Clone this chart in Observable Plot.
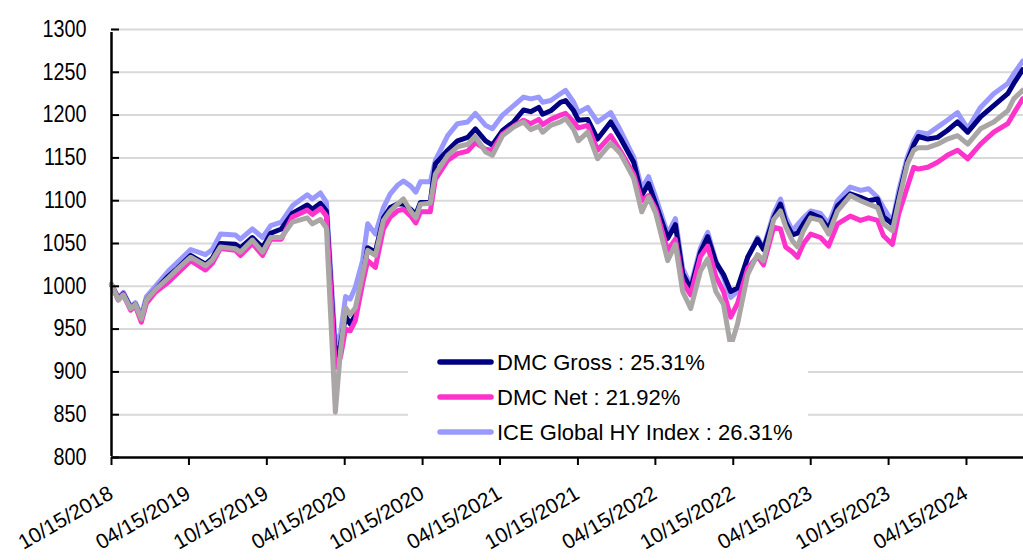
<!DOCTYPE html>
<html><head><meta charset="utf-8">
<script src="https://cdn.jsdelivr.net/npm/d3@7"></script>
<script src="https://cdn.jsdelivr.net/npm/@observablehq/plot@0.6"></script>
<style>
html,body{margin:0;padding:0;background:#fff;}
#chart{width:1023px;height:560px;overflow:hidden;}
</style></head><body><div id="chart"></div>
<script>
const dates = ["2018-10-15","2018-10-31","2018-11-12","2018-11-29","2018-12-10","2018-12-24","2019-01-05","2019-01-26","2019-02-26","2019-03-19",
"2019-04-19","2019-05-24","2019-06-09","2019-06-28","2019-08-02","2019-08-14","2019-09-11","2019-10-05","2019-10-24","2019-11-18",
"2019-12-14","2020-01-18","2020-01-30","2020-02-18","2020-03-03","2020-03-24","2020-04-05","2020-04-17","2020-04-28","2020-05-10",
"2020-05-27","2020-06-08","2020-06-26","2020-07-15","2020-07-31","2020-08-17","2020-08-31","2020-09-17","2020-09-29","2020-10-10",
"2020-11-02","2020-11-14","2020-12-13","2021-01-05","2021-01-29","2021-02-16","2021-03-12","2021-03-28","2021-04-21","2021-05-17",
"2021-06-09","2021-06-26","2021-07-15","2021-07-24","2021-08-12","2021-09-04","2021-09-16","2021-10-05","2021-10-16","2021-11-07",
"2021-11-30","2021-12-31","2022-01-23","2022-02-23","2022-03-14","2022-03-30","2022-04-16","2022-05-14","2022-06-01","2022-06-18",
"2022-07-07","2022-07-30","2022-08-16","2022-09-04","2022-09-22","2022-10-09","2022-10-25","2022-11-18","2022-12-11","2022-12-25",
"2023-01-18","2023-02-03","2023-02-15","2023-03-03","2023-03-15","2023-03-29","2023-04-15","2023-05-08","2023-05-27","2023-06-17",
"2023-07-17","2023-08-10","2023-08-29","2023-09-19","2023-10-03","2023-10-24","2023-11-08","2023-11-28","2023-12-13","2023-12-24",
"2024-01-15","2024-02-07","2024-03-01","2024-03-25","2024-04-18","2024-05-18","2024-06-18","2024-07-21","2024-08-04","2024-08-25"];

const iceIndex = [1002,987,993,976,981,966,988,1000,1018,1028,
1043,1037,1043,1061,1060,1055,1067,1057,1071,1075,
1094,1107,1102,1109,1098,932,944,988,985,999,
1030,1073,1061,1092,1108,1118,1123,1117,1110,1122,
1122,1147,1176,1190,1192,1202,1188,1184,1200,1211,
1221,1219,1221,1215,1217,1225,1229,1215,1203,1209,
1192,1203,1182,1151,1114,1128,1104,1061,1079,1021,
1001,1045,1063,1030,1010,987,994,1034,1057,1045,
1085,1102,1081,1065,1072,1080,1088,1085,1073,1100,
1116,1112,1114,1104,1092,1075,1112,1151,1170,1180,
1178,1186,1194,1203,1184,1209,1225,1237,1248,1263];

const dmcGross = [1002,985,991,975,979,962,984,996,1012,1021,
1036,1026,1033,1050,1049,1045,1057,1045,1062,1067,
1085,1095,1090,1097,1088,915,932,965,956,966,
1010,1045,1040,1080,1092,1096,1096,1090,1084,1098,
1098,1143,1159,1170,1174,1184,1170,1165,1182,1192,
1206,1204,1209,1201,1205,1215,1217,1205,1194,1195,
1172,1192,1173,1145,1106,1120,1096,1056,1072,1015,
997,1040,1058,1028,1014,994,998,1034,1055,1043,
1080,1096,1075,1060,1062,1073,1085,1080,1067,1094,
1108,1104,1100,1102,1081,1073,1105,1146,1165,1175,
1172,1174,1182,1192,1180,1198,1211,1225,1237,1253];

const dmcNet = [1002,984,990,972,977,958,980,993,1005,1015,
1030,1019,1027,1044,1042,1036,1050,1036,1055,1055,
1081,1089,1084,1091,1082,905,917,950,948,960,
1003,1030,1022,1067,1081,1088,1090,1082,1074,1087,
1087,1125,1147,1155,1158,1168,1160,1159,1178,1187,
1194,1190,1195,1189,1195,1200,1202,1192,1185,1188,
1159,1176,1158,1131,1100,1106,1090,1042,1055,1005,
990,1035,1047,1012,994,964,980,1021,1035,1025,
1069,1067,1046,1040,1034,1050,1061,1057,1047,1073,
1082,1077,1080,1077,1059,1049,1085,1116,1139,1137,
1139,1145,1153,1159,1149,1166,1180,1190,1202,1219];

const grayBenchmark = [1002,984,990,974,979,962,984,996,1010,1020,
1034,1024,1031,1046,1044,1040,1054,1040,1057,1057,
1075,1080,1073,1078,1068,853,924,975,967,975,
1014,1042,1036,1077,1088,1096,1102,1088,1080,1096,
1097,1131,1153,1163,1166,1175,1157,1153,1176,1186,
1192,1183,1187,1180,1188,1192,1196,1183,1170,1180,
1149,1167,1155,1126,1087,1104,1085,1030,1049,994,
974,1018,1032,994,979,930,956,1014,1037,1030,
1078,1088,1070,1053,1046,1065,1080,1077,1061,1088,
1106,1100,1096,1092,1073,1065,1100,1143,1159,1162,
1162,1166,1172,1176,1166,1184,1192,1205,1219,1229];

const seriesLabels = ["DMC Gross : 25.31%", "DMC Net : 21.92%", "ICE Global HY Index : 26.31%"];
const yTicks = [800, 850, 900, 950, 1000, 1050, 1100, 1150, 1200, 1250, 1300];
const xTickLabels = ["10/15/2018","04/15/2019","10/15/2019","04/15/2020","10/15/2020","04/15/2021","10/15/2021","04/15/2022","10/15/2022","04/15/2023","10/15/2023","04/15/2024"];
const xStart = "2018-10-15";
const xEnd = "2024-08-27";

const colors = {gross: "#000080", net: "#ff33cc", ice: "#9999ff", gray: "#aaa6a6"};
const FONT = "'Liberation Sans', Arial, sans-serif";

const parse = d3.utcParse("%Y-%m-%d");
const parseTick = d3.utcParse("%m/%d/%Y");
const mk = (vals) => dates.map((d, i) => ({date: parse(d), value: vals[i]}));
const iceData = mk(iceIndex), grossData = mk(dmcGross), netData = mk(dmcNet), grayData = mk(grayBenchmark);
const xTicks = xTickLabels.map(parseTick);
const fmt = d3.utcFormat("%m/%d/%Y");

const lineOpts = {x: "date", y: "value", strokeWidth: 5, strokeLinejoin: "round", strokeLinecap: "round"};

const chart = Plot.plot({
  width: 1023,
  height: 560,
  marginLeft: 111,
  marginRight: 0,
  marginTop: 29,
  marginBottom: 103,
  style: {fontFamily: FONT, fontSize: "22px", color: "#000", background: "#fff", overflow: "visible"},
  x: {type: "utc", domain: [parse(xStart), parse(xEnd)]},
  y: {domain: [800, 1300]},
  marks: [
    Plot.ruleY(yTicks.filter(d => d > 800), {stroke: "#d9d9d9", strokeWidth: 2}),
    Plot.line(iceData, {...lineOpts, stroke: colors.ice}),
    Plot.line(grossData, {...lineOpts, stroke: colors.gross}),
    Plot.line(netData, {...lineOpts, stroke: colors.net}),
    Plot.line(grayData, {...lineOpts, stroke: colors.gray}),
    Plot.axisY(yTicks, {tickSize: 0, tickPadding: 25, label: null, fontSize: 23, tickFormat: d => String(d)}),
    Plot.axisY(yTicks, {tickSize: -8, tickFormat: () => "", label: null, strokeWidth: 2}),
    Plot.axisX(xTicks, {tickSize: 8, tickFormat: () => "", label: null, strokeWidth: 2}),
    Plot.ruleX([parse(xStart)], {stroke: "#000", strokeWidth: 2.5, y1: 800, y2: 1300, insetTop: -1, insetBottom: -3}),
    Plot.ruleY([800], {stroke: "#000", strokeWidth: 2.5}),
    Plot.text(xTicks, {x: d => d, frameAnchor: "bottom", text: d => fmt(d), rotate: -30, textAnchor: "end", lineAnchor: "bottom", dx: 3, dy: 40, fontSize: 21})
  ]
});
document.getElementById("chart").appendChild(chart);

const svg = d3.select(chart);
// condensed look for the y tick labels (scale about each label's own anchor)
svg.selectAll('g[aria-label="y-axis tick label"] text').each(function() {
  const t = this.getAttribute("transform");
  if (t) this.setAttribute("transform", `${t} scale(0.86,1)`);
});

// Legend overlay inside the plot area
const leg = svg.append("g").attr("class", "legend").attr("text-anchor", "start");
leg.append("rect").attr("x", 408).attr("y", 342).attr("width", 400).attr("height", 114).attr("fill", "#fff");
const legendColors = [colors.gross, colors.net, colors.ice];
seriesLabels.forEach((label, i) => {
  const cy = 362 + i * 35;
  leg.append("line").attr("x1", 440).attr("x2", 491).attr("y1", cy).attr("y2", cy)
    .attr("stroke", legendColors[i]).attr("stroke-width", 5.5).attr("stroke-linecap", "round");
  leg.append("text").attr("x", 497).attr("y", cy).attr("dy", "0.36em")
    .attr("text-anchor", "start")
    .attr("font-family", FONT).attr("font-size", 22).attr("fill", "#000").text(label);
});
</script></body></html>
